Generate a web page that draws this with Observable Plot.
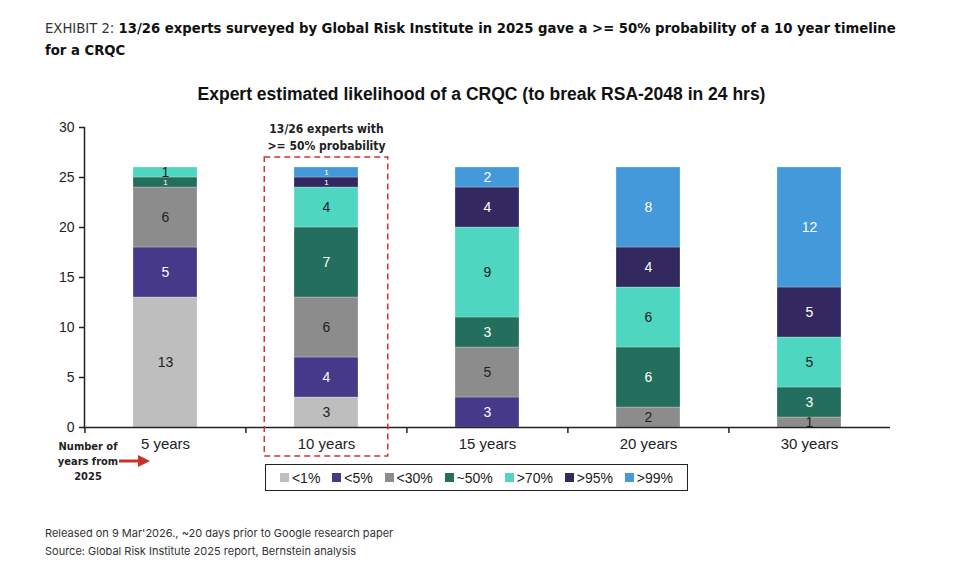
<!DOCTYPE html>
<html>
<head>
<meta charset="utf-8">
<script src="https://cdn.jsdelivr.net/npm/d3@7"></script>
<script src="https://cdn.jsdelivr.net/npm/@observablehq/plot@0.6"></script>
<style>
  html, body { margin: 0; padding: 0; background: #fff; }
  #page { position: relative; width: 963px; height: 562px; overflow: hidden; font-family: "Liberation Sans", Arial, sans-serif; }
  #hdr { position: absolute; left: 45px; top: 17px; font-family: "DejaVu Sans Condensed", "DejaVu Sans", sans-serif; font-size: 14.7px; line-height: 22px; color: #111; white-space: nowrap; }
  #hdr .lt { font-weight: 300; color: #333; }
  #hdr b { font-weight: 700; }
  #title { position: absolute; left: 0; width: 963px; top: 84px; text-align: center; font-weight: bold; font-size: 17.5px; color: #111; }
  #chart { position: absolute; left: 0; top: 110px; }
  #nyears { position: absolute; left: 52px; top: 439px; width: 72px; text-align: center; font-family: "DejaVu Sans Condensed", sans-serif; font-weight: bold; font-size: 11px; line-height: 15px; color: #222; }
  #arrow { position: absolute; left: 118px; top: 454px; }
  #legend { position: absolute; left: 265px; top: 464px; width: 423px; height: 27px; box-sizing: border-box; border: 1.5px solid #222; display: flex; align-items: center; justify-content: space-around; padding: 0 8px; font-size: 14px; color: #222; }
  #legend .it { display: flex; align-items: center; }
  #legend .sw { width: 9px; height: 9px; margin-right: 3px; }
  #foot { position: absolute; left: 45px; top: 524px; font-family: Inter, Roboto, sans-serif; font-size: 11px; line-height: 18px; color: #333; }
</style>
</head>
<body>
<div id="page">
  <div id="hdr"><span class="lt">EXHIBIT 2:</span> <b>13/26 experts surveyed by Global Risk Institute in 2025 gave a &gt;= 50% probability of a 10 year timeline</b><br><b>for a CRQC</b></div>
  <div id="title">Expert estimated likelihood of a CRQC (to break RSA-2048 in 24 hrs)</div>
  <div id="chart"></div>
  <div id="nyears">Number of<br>years from<br>2025</div>
  <svg id="arrow" width="34" height="14"><line x1="1" y1="7" x2="22" y2="7" stroke="#c8322a" stroke-width="3"/><polygon points="20,1 32,7 20,13" fill="#c8322a"/></svg>
  <div id="legend"></div>
  <div id="foot">Released on 9 Mar'2026., ~20 days prior to Google research paper<br>Source: Global Risk Institute 2025 report, Bernstein analysis</div>
</div>
<script>
// ---- data ----
const categories = ["5 years", "10 years", "15 years", "20 years", "30 years"];
const series = ["<1%", "<5%", "<30%", "~50%", ">70%", ">95%", ">99%"];
const seriesColors = ["#bebebe", "#47398a", "#8c8c8c", "#246e5e", "#4fd6c1", "#332860", "#4499da"];
const lt1      = [13, 3, 0, 0, 0];
const lt5      = [5, 4, 3, 0, 0];
const lt30     = [6, 6, 5, 2, 1];
const approx50 = [1, 7, 3, 6, 3];
const gt70     = [1, 4, 9, 6, 5];
const gt95     = [0, 1, 4, 4, 5];
const gt99     = [0, 1, 2, 8, 12];
const yTicks = [0, 5, 10, 15, 20, 25, 30];
const whiteLabelSeries = ["<5%", "~50%", ">95%", ">99%"];
const annotCategory = "10 years";
const annotText = "13/26 experts with\n>= 50% probability";
const annotBox = [-2.9, 27];

// ---- table ----
const seriesValues = [lt1, lt5, lt30, approx50, gt70, gt95, gt99];
const rows = [];
categories.forEach((cat, ci) => {
  let acc = 0;
  series.forEach((s, si) => {
    const v = seriesValues[si][ci];
    if (v > 0) {
      rows.push({cat, series: s, value: v, y1: acc, y2: acc + v});
      acc += v;
    }
  });
});
const whiteRows = rows.filter(d => whiteLabelSeries.includes(d.series));
const darkRows = rows.filter(d => !whiteLabelSeries.includes(d.series));

const W = 963, mL = 84, mR = 73;
const step = (W - mL - mR) / categories.length;

const chart = Plot.plot({
  width: W,
  height: 400,
  marginTop: 17,
  marginBottom: 83,
  marginLeft: mL,
  marginRight: mR,
  style: {fontFamily: "'Liberation Sans', Arial, sans-serif", overflow: "visible", color: "#222"},
  x: {domain: categories, paddingInner: 0.6, paddingOuter: 0.3, axis: null},
  y: {domain: [0, 30], axis: null},
  color: {domain: series, range: seriesColors},
  marks: [
    Plot.barY(rows, {x: "cat", y1: "y1", y2: "y2", fill: "series", stroke: "#fff", strokeWidth: 0.4, strokeOpacity: 0.6}),
    Plot.text(whiteRows, {x: "cat", y: d => (d.y1 + d.y2) / 2, text: "value", fill: "white", fontSize: d => d.value === 1 ? 8 : 14}),
    Plot.text(darkRows, {x: "cat", y: d => (d.y1 + d.y2) / 2, text: "value", fill: "#222", fontSize: 14}),
    Plot.ruleY([0], {stroke: "#222", strokeWidth: 1.5}),
    Plot.frame({anchor: "left", stroke: "#222", strokeWidth: 1.5}),
    Plot.axisY({ticks: yTicks, tickSize: 5, tickPadding: 5, fontSize: 14, stroke: "#222", strokeWidth: 1.5, label: null}),
    Plot.axisX({tickSize: 0, tickPadding: 11, fontSize: 15, label: null}),
    Plot.ruleX(categories, {x: d => d, y1: 0, y2: -0.6, dx: -step / 2, stroke: "#222", strokeWidth: 1.5}),
    Plot.barY([annotCategory], {x: d => d, y1: annotBox[0], y2: annotBox[1], fill: "none", stroke: "#d4322c", strokeWidth: 1.5, strokeDasharray: "6,4", insetLeft: -29.75, insetRight: -29.75}),
    Plot.text([annotCategory], {x: d => d, y: 29.15, text: [annotText], fontSize: 12, lineHeight: 1.4, fontWeight: "bold", fontFamily: "'DejaVu Sans Condensed', sans-serif", fill: "#222"})
  ]
});
document.getElementById("chart").appendChild(chart);

// ---- legend ----
const legend = document.getElementById("legend");
series.forEach((s, i) => {
  const it = document.createElement("div");
  it.className = "it";
  const sw = document.createElement("span");
  sw.className = "sw";
  sw.style.background = seriesColors[i];
  const lb = document.createElement("span");
  lb.textContent = s;
  it.appendChild(sw);
  it.appendChild(lb);
  legend.appendChild(it);
});
</script>
</body>
</html>
